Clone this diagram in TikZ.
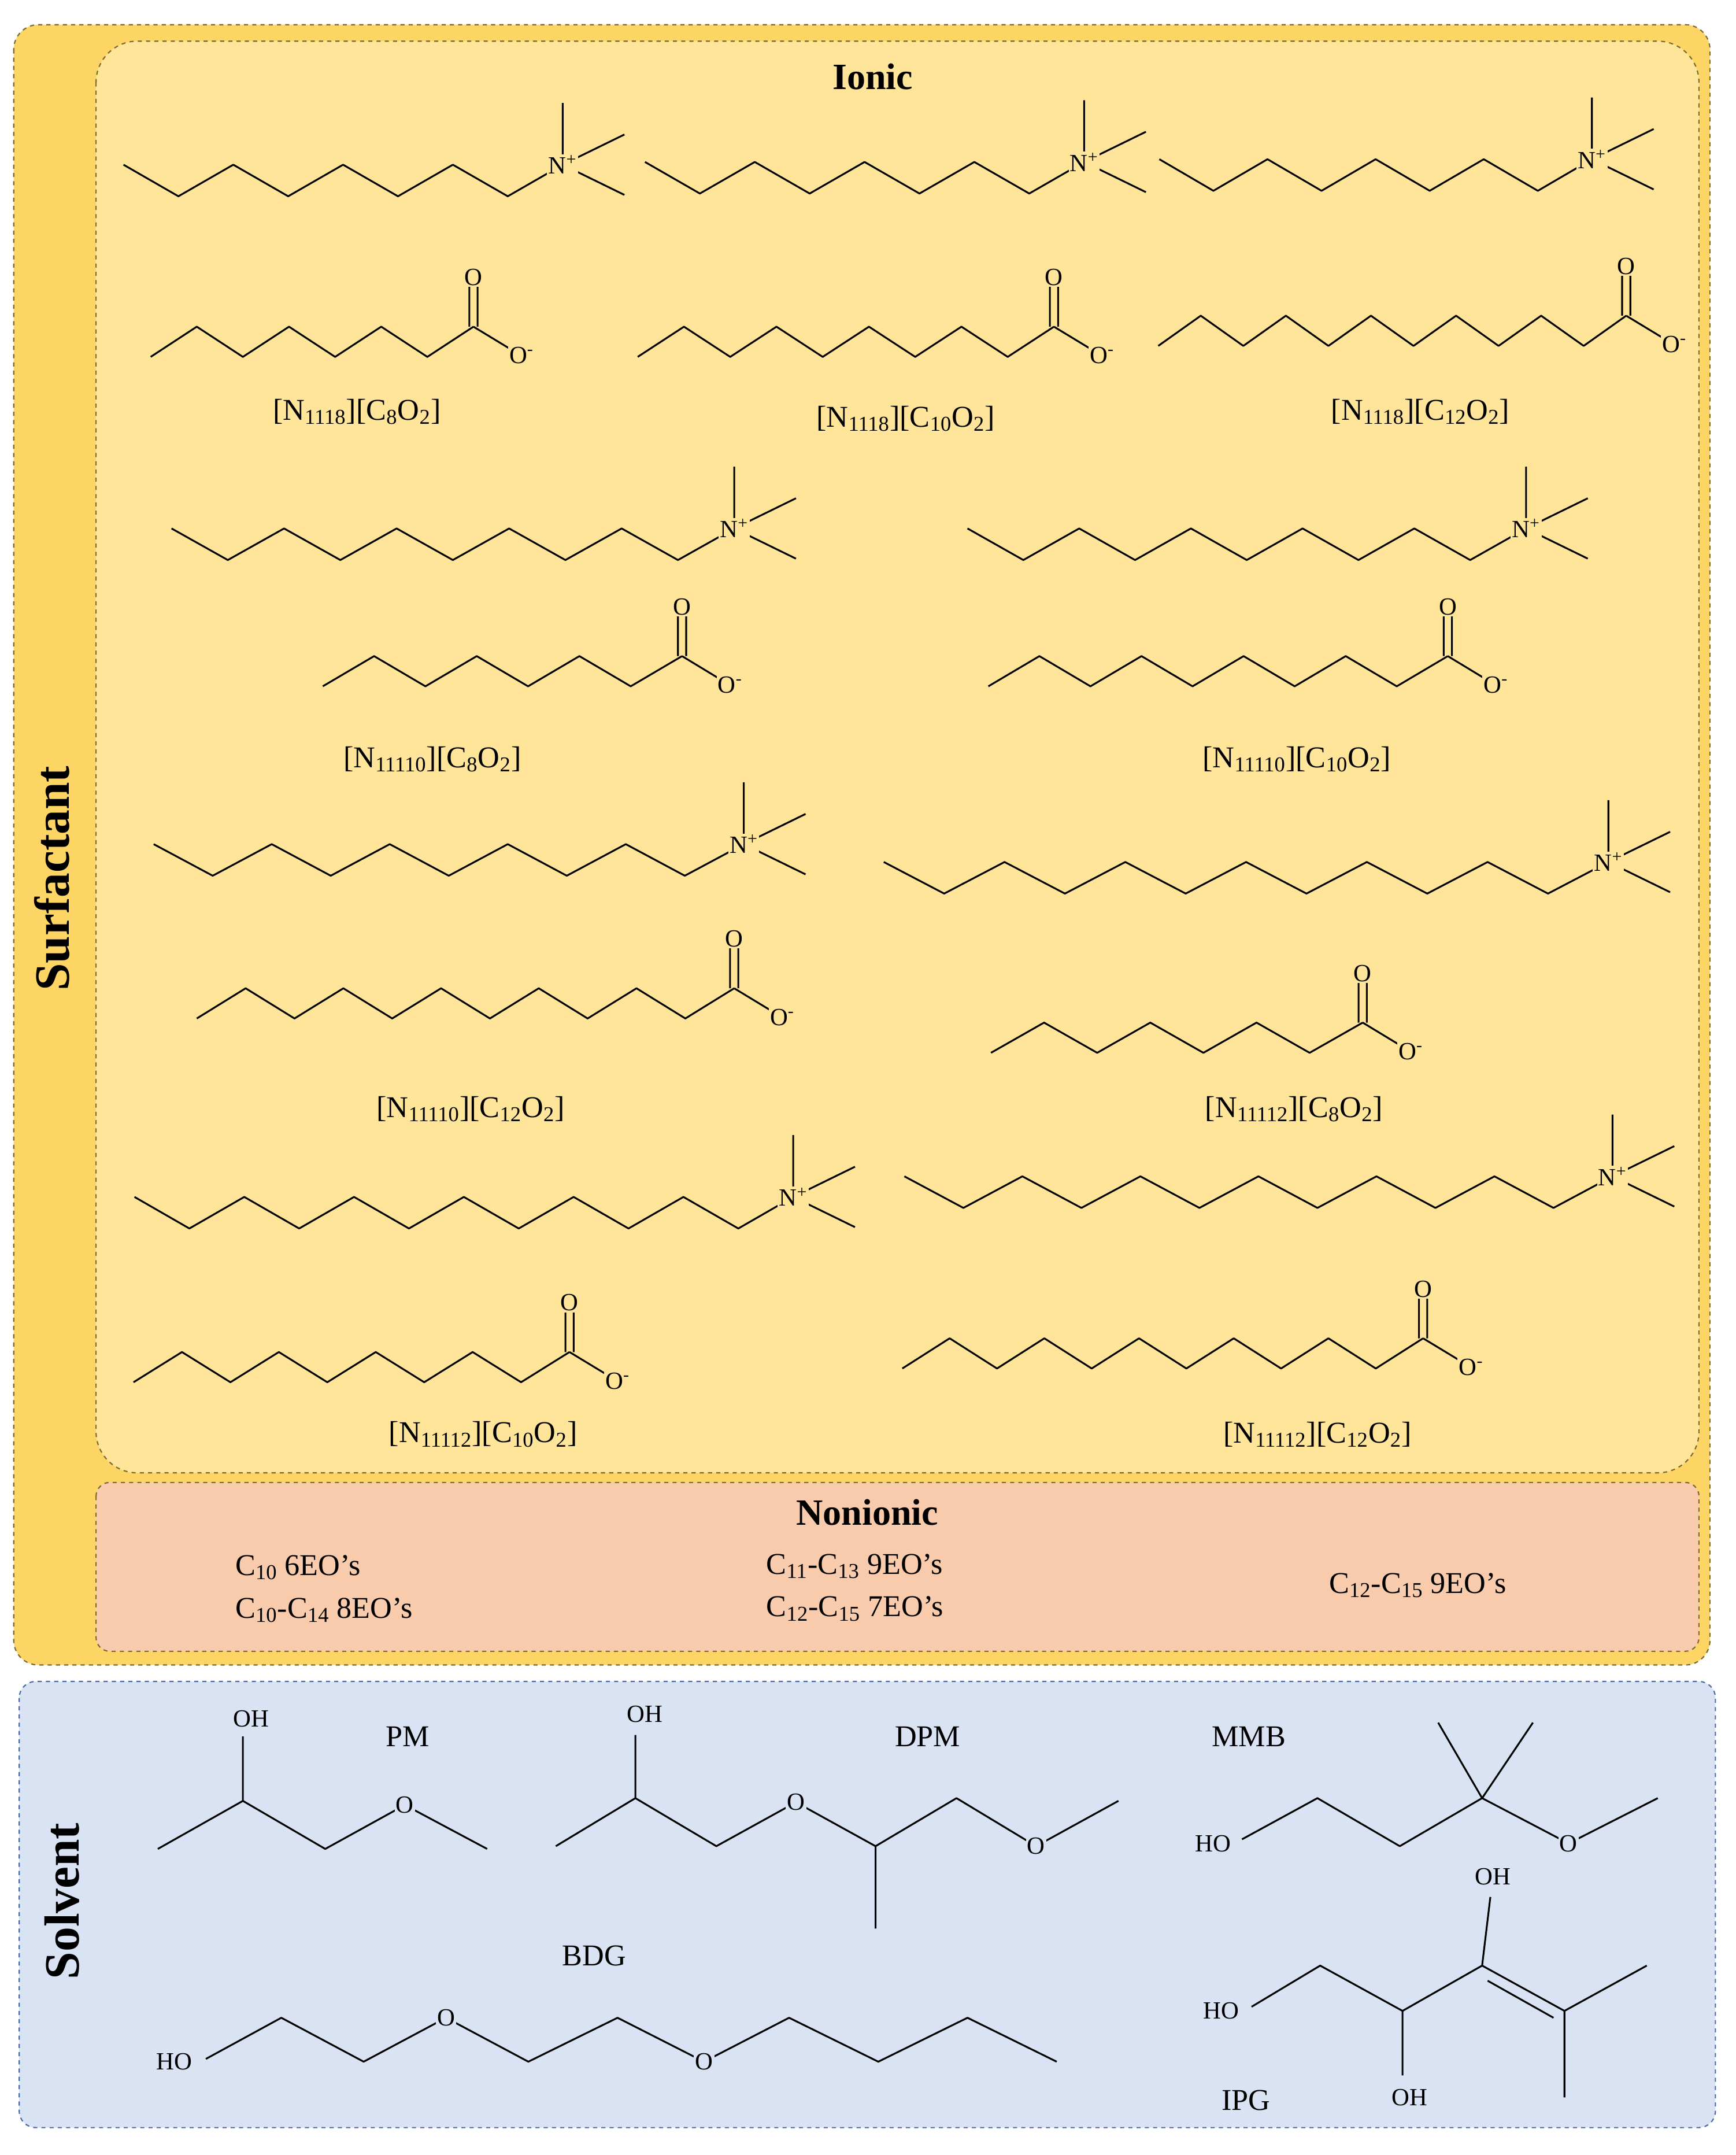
\documentclass[tikz,border=0pt]{standalone}
\usepackage{fontspec}
\setmainfont{Liberation Serif}
\definecolor{gold}{HTML}{FDD565}
\definecolor{ionbg}{HTML}{FEE599}
\definecolor{nonbg}{HTML}{F8CBAD}
\definecolor{solbg}{HTML}{DAE3F3}
\definecolor{dashc}{HTML}{7A6A30}
\definecolor{soldash}{HTML}{4A6AA5}
\tikzset{bond/.style={line width=1.3pt,line join=round},
 atom/.style={inner sep=1pt,font=\fontsize{18}{18}\selectfont},
 lbl/.style={font=\fontsize{22}{24}\selectfont},
 ttl/.style={font=\bfseries\fontsize{27}{30}\selectfont},
 frame/.style={dashed,line width=0.9pt}}
\newcommand\cation[4]{% xN yN n dx
 \pgfmathtruncatemacro\ns{#3+1}
 \draw[bond] plot[domain=0:#3,samples=\ns] ({#1-(#3-\x)*#4},{#2+mod(round(#3-\x),2)*23});
 \draw[bond] (#1,#2)--(#1,#2-45) (#1,#2)--(#1+45,#2-22) (#1,#2)--(#1+45,#2+22);
 \node[atom,fill=ionbg] at (#1,#2) {N\textsuperscript{+}};}
\newcommand\anion[4]{% xC yC n dx
 \pgfmathtruncatemacro\ns{#3+1}
 \draw[bond] plot[domain=0:#3,samples=\ns] ({#1-(#3-\x)*#4},{#2+mod(round(#3-\x),2)*22});
 \draw[bond] (#1-3,#2)--(#1-3,#2-35) (#1+3,#2)--(#1+3,#2-35) (#1,#2)--(#1+33,#2+20);
 \node[atom,fill=ionbg] at (#1,#2-36) {O};
 \node[atom,fill=ionbg] at (#1+35,#2+21) {O\textsuperscript{-}};}
\begin{document}
\begin{tikzpicture}[x=1pt,y=-1pt]
\useasboundingbox (0,0) rectangle (1265,1570);
\fill[white] (0,0) rectangle (1265,1570);
% boxes
\draw[frame,dashc,fill=gold,rounded corners=18] (10,18) rectangle (1246,1213);
\draw[frame,dashc,fill=ionbg,rounded corners=30] (70,30) rectangle (1238,1073);
\draw[frame,dashc,fill=nonbg,rounded corners=10] (70,1080) rectangle (1238,1203);
\draw[frame,soldash,fill=solbg,rounded corners=12] (14,1225) rectangle (1250,1550);
\node[rotate=90,font=\bfseries\fontsize{36}{40}\selectfont] (surf) at (38,640) {Surfactant};
\node[rotate=90,font=\bfseries\fontsize{36}{40}\selectfont] (solv) at (45,1385) {Solvent};
\node[ttl] (ionic) at (636,56) {Ionic};
\node[ttl] (nonionic) at (632,1102) {Nonionic};
% row 1
\cation{410}{120}{8}{40}
\cation{790}{118}{8}{40}
\cation{1160}{116}{8}{39.4}
\anion{345}{238}{7}{33.6}
\anion{768}{238}{9}{33.7}
\anion{1185}{230}{11}{31}
\node[lbl] at (260,300) {[N\textsubscript{1118}][C\textsubscript{8}O\textsubscript{2}]};
\node[lbl] at (660,305) {[N\textsubscript{1118}][C\textsubscript{10}O\textsubscript{2}]};
\node[lbl] at (1035,300) {[N\textsubscript{1118}][C\textsubscript{12}O\textsubscript{2}]};
% row 2
\cation{535}{385}{10}{41}
\cation{1112}{385}{10}{40.7}
\anion{497}{478}{7}{37.4}
\anion{1055}{478}{9}{37.2}
\node[lbl] at (315,553) {[N\textsubscript{11110}][C\textsubscript{8}O\textsubscript{2}]};
\node[lbl] at (945,553) {[N\textsubscript{11110}][C\textsubscript{10}O\textsubscript{2}]};
% row 3
\cation{542}{615}{10}{43}
\cation{1172}{628}{12}{44}
\anion{535}{720}{11}{35.6}
\anion{993}{745}{7}{38.7}
\node[lbl] at (343,808) {[N\textsubscript{11110}][C\textsubscript{12}O\textsubscript{2}]};
\node[lbl] at (943,808) {[N\textsubscript{11112}][C\textsubscript{8}O\textsubscript{2}]};
% row 4
\cation{578}{872}{12}{40}
\cation{1175}{857}{12}{43}
\anion{415}{985}{9}{35.3}
\anion{1037}{975}{11}{34.5}
\node[lbl] at (352,1045) {[N\textsubscript{11112}][C\textsubscript{10}O\textsubscript{2}]};
\node[lbl] at (960,1045) {[N\textsubscript{11112}][C\textsubscript{12}O\textsubscript{2}]};
% nonionic
\node[lbl,anchor=west] at (168,1142) {C\textsubscript{10} 6EO's};
\node[lbl,anchor=west] at (168,1173) {C\textsubscript{10}-C\textsubscript{14} 8EO's};
\node[lbl,anchor=west] at (555,1141) {C\textsubscript{11}-C\textsubscript{13} 9EO's};
\node[lbl,anchor=west] at (555,1172) {C\textsubscript{12}-C\textsubscript{15} 7EO's};
\node[lbl,anchor=west] at (965,1155) {C\textsubscript{12}-C\textsubscript{15} 9EO's};
% PM
\draw[bond] (115,1347)--(177,1312)--(237,1347)--(295,1315)--(355,1347) (177,1312)--(177,1265);
\node[atom,fill=solbg] at (295,1315) {O};
\node[atom] at (183,1252) {OH};
\node[lbl] at (297,1265) {PM};
% DPM
\draw[bond] (405,1345)--(463,1310)--(522,1345)--(580,1313)--(638,1345)--(697,1310)--(755,1345)--(815,1312)
 (638,1345)--(638,1405) (463,1310)--(463,1264);
\node[atom,fill=solbg] at (580,1313) {O};
\node[atom,fill=solbg] at (755,1345) {O};
\node[atom] at (470,1249) {OH};
\node[lbl] at (676,1265) {DPM};
% MMB
\draw[bond] (905,1340)--(960,1310)--(1020,1345)--(1080,1310)--(1143,1343)--(1208,1310)
 (1080,1310)--(1048,1255) (1080,1310)--(1117,1255);
\node[atom,fill=solbg] at (1143,1343) {O};
\node[atom] at (884,1343) {HO};
\node[lbl] at (910,1265) {MMB};
% BDG
\draw[bond] (150,1500)--(205,1470)--(265,1502)--(325,1470)--(385,1502)--(450,1470)--(513,1502)--(575,1470)--(640,1502)--(705,1470)--(770,1502);
\node[atom,fill=solbg] at (325,1470) {O};
\node[atom,fill=solbg] at (513,1502) {O};
\node[atom] at (127,1502) {HO};
\node[lbl] at (433,1425) {BDG};
% IPG
\draw[bond] (912,1462)--(962,1432)--(1022,1465)--(1080,1432)--(1140,1465)--(1200,1432)
 (1080,1432)--(1086,1382) (1022,1465)--(1022,1512) (1140,1465)--(1140,1528)
 (1084,1443)--(1132,1470);
\node[atom] at (1088,1367) {OH};
\node[atom] at (1027,1528) {OH};
\node[atom] at (890,1465) {HO};
\node[lbl] at (908,1530) {IPG};
\end{tikzpicture}
\end{document}
